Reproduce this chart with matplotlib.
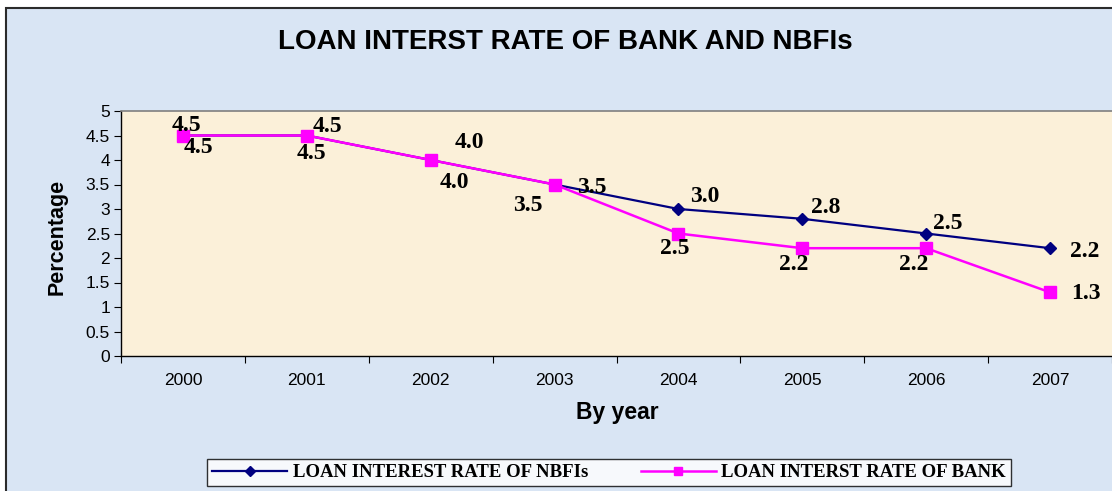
import numpy as np
import matplotlib
matplotlib.use("Agg")
import matplotlib.pyplot as plt
from matplotlib.patches import Rectangle
from matplotlib.ticker import FuncFormatter

years = ['2000', '2001', '2002', '2003', '2004', '2005', '2006', '2007']
nbfi_rate = [4.5, 4.5, 4.0, 3.5, 3.0, 2.8, 2.5, 2.2]
bank_rate = [4.5, 4.5, 4.0, 3.5, 2.5, 2.2, 2.2, 1.3]
nbfi_text = ['4.5', '4.5', '4.0', '3.5', '3.0', '2.8', '2.5', '2.2']
bank_text = ['4.5', '4.5', '4.0', '3.5', '2.5', '2.2', '2.2', '1.3']

title = 'LOAN INTERST RATE OF BANK AND NBFIs'
nbfi_name = 'LOAN INTEREST RATE OF NBFIs'
bank_name = 'LOAN INTERST RATE OF BANK'

# label offsets in pixels (dx, dy up), hand placed like in the original
nbfi_off = [(4, 10), (21, 9), (39, 17), (37, -3), (26, 12), (23, 11), (22, 10), (35, -3)]
bank_off = [(15, -12), (5, -18), (24, -22), (-27, -21), (-4, -15), (-9, -16), (-13, -16), (36, -1)]

W, H = 1112, 491
fig = plt.figure(figsize=(W / 100, H / 100), dpi=100)
fig.patch.set_facecolor('white')

# chart area frame
fig.patches.append(Rectangle((6 / W, -0.1), 1.2, 1 - 8 / H + 0.1, transform=fig.transFigure,
                             facecolor='#d9e5f4', edgecolor='#2b2b2b', lw=1.5, zorder=-5))

ax = fig.add_axes([121 / W, (H - 356) / H, (W - 121) / W, 245 / H])
ax.set_zorder(1)
ax.set_facecolor('#fbf0d9')

x = np.arange(len(years))
ax.plot(x, nbfi_rate, color='#000080', lw=1.6, marker='D', ms=6.6, zorder=3, label=nbfi_name)
ax.plot(x, bank_rate, color='#ff00ff', lw=1.8, marker='s', ms=8.5, zorder=4, label=bank_name)

lab_font = dict(family='Liberation Serif', weight='bold', size=17, color='black')
for i in range(len(years)):
    ax.annotate(nbfi_text[i], (x[i], nbfi_rate[i]), xytext=nbfi_off[i], textcoords='offset pixels',
                ha='center', va='center', zorder=5, **lab_font)
    ax.annotate(bank_text[i], (x[i], bank_rate[i]), xytext=bank_off[i], textcoords='offset pixels',
                ha='center', va='center', zorder=5, **lab_font)

ax.set_xlim(-0.5, -0.5 + (W - 121) / 125)
ax.set_ylim(0, 5)
ax.set_yticks(np.arange(0, 5.01, 0.5))
ax.yaxis.set_major_formatter(FuncFormatter(lambda v, p: '%g' % v))

ax.set_xticks(np.arange(-0.5, len(years), 1.0))
ax.set_xticklabels([])
ax.set_xticks(x, minor=True)
ax.set_xticklabels(years, minor=True)
ax.tick_params(axis='x', which='major', length=5, direction='out', color='black')
ax.tick_params(axis='x', which='minor', length=0, pad=12)
ax.tick_params(axis='y', length=5, direction='out', pad=3)
for lab in ax.get_xticklabels(minor=True) + ax.get_yticklabels():
    lab.set_fontfamily('Liberation Sans')
    lab.set_fontsize(12.5)

ax.spines['right'].set_visible(False)
ax.spines['top'].set_color('#7f7f7f')
ax.spines['top'].set_linewidth(1.2)
for s in ['left', 'bottom']:
    ax.spines[s].set_color('black')
    ax.spines[s].set_linewidth(1.0)

fig.text(565 / W, 1 - 42 / H, title, ha='center', va='center',
         family='Liberation Sans', weight='bold', size=20)
fig.text(57 / W, 1 - 237 / H, 'Percentage', ha='center', va='center', rotation=90,
         family='Liberation Sans', weight='bold', size=15.5)
fig.text(617 / W, 1 - 413 / H, 'By year', ha='center', va='center',
         family='Liberation Sans', weight='bold', size=16.5)

leg = fig.legend(loc='center', bbox_to_anchor=(609 / W, 18.5 / H), ncol=2, frameon=True,
                 fancybox=False, handlelength=4.0, handletextpad=0.3, columnspacing=2.8,
                 borderpad=0.25, markerscale=0.75,
                 prop=dict(family='Liberation Serif', weight='bold', size=13.5))
leg.set_zorder(6)
leg.get_frame().set_edgecolor('black')
leg.get_frame().set_linewidth(1.0)
leg.get_frame().set_facecolor('white')

fig.savefig('out.png', dpi=100)
